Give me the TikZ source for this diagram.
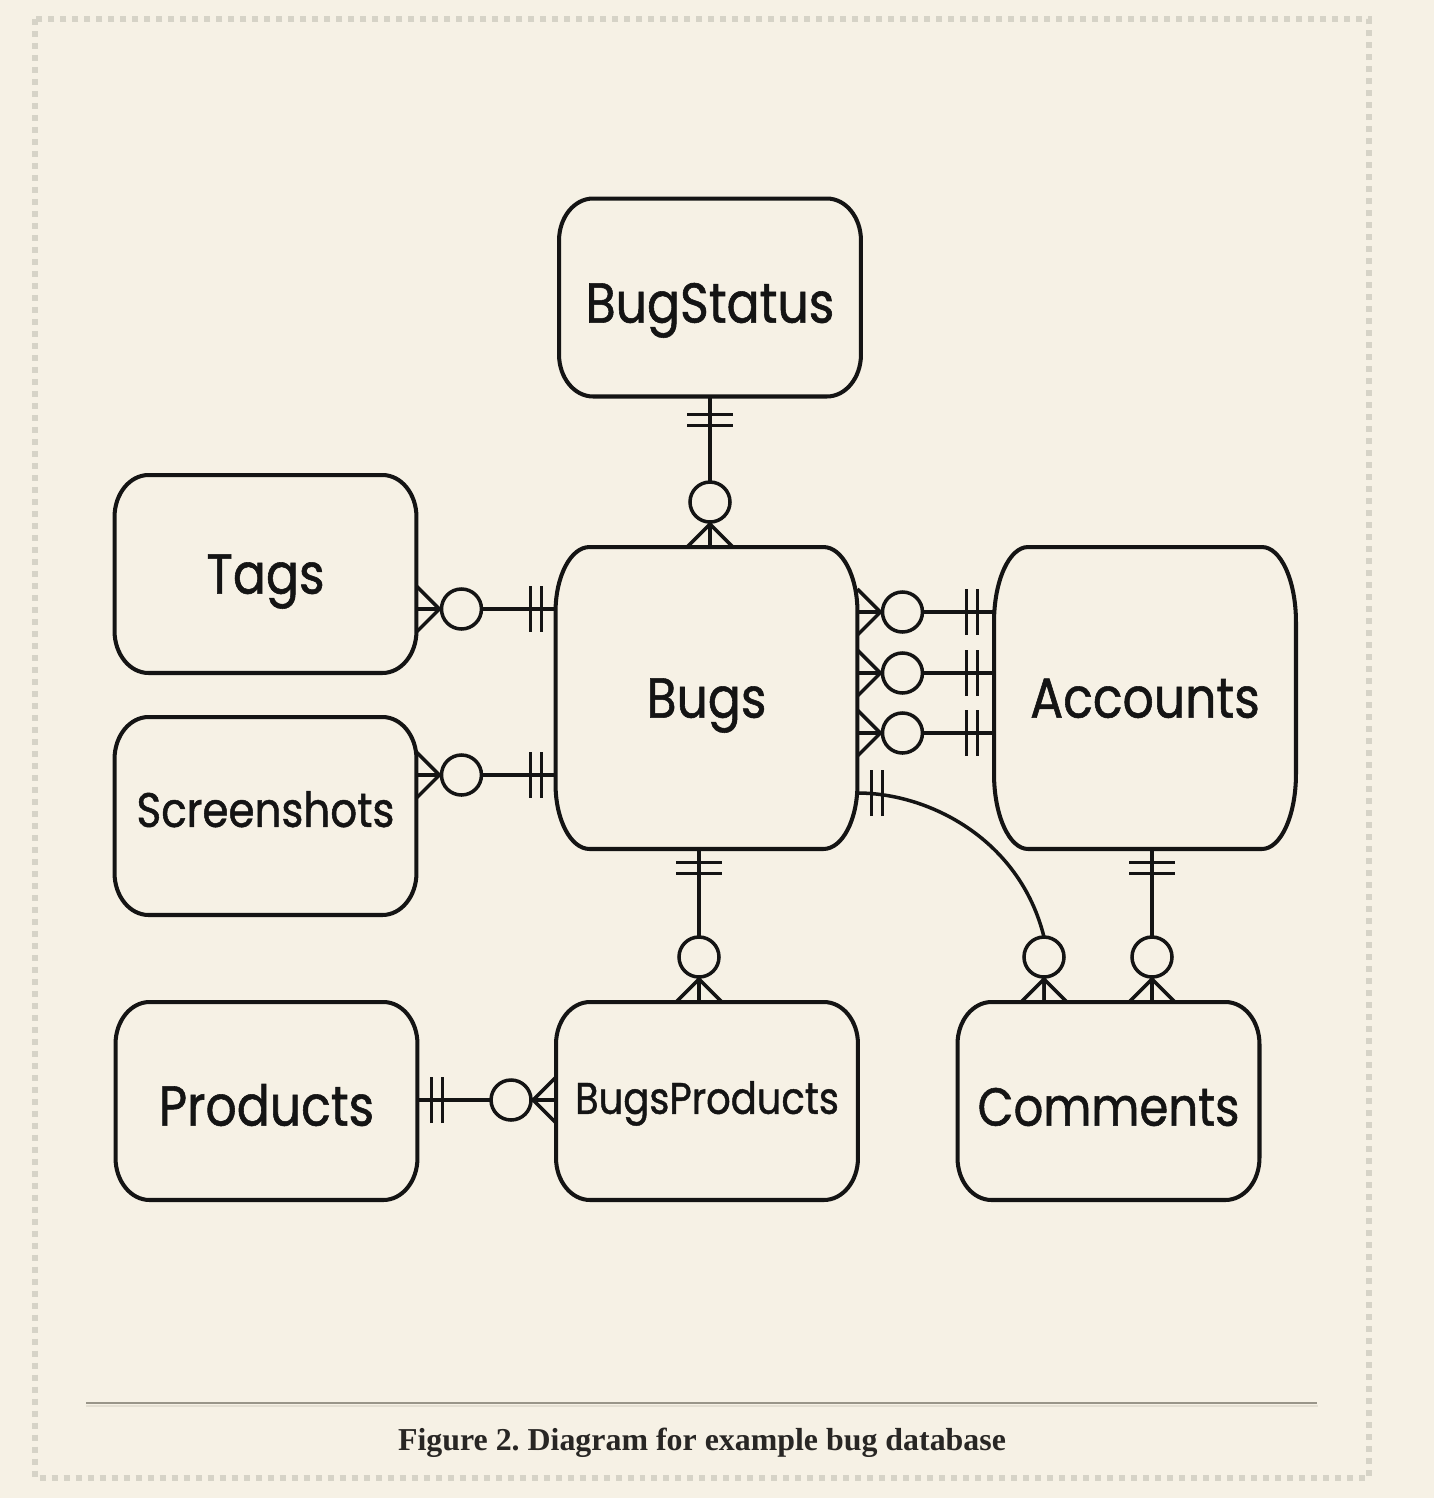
\documentclass[tikz,border=0pt]{standalone}
\usepackage{fontspec}
\setmainfont{Liberation Serif}
\newfontfamily\erfont[FakeStretch=0.87, FakeBold=1]{Poppins}
\usetikzlibrary{calc}

\definecolor{paper}{RGB}{246,241,229}
\definecolor{dotgray}{RGB}{214,211,199}
\definecolor{rulegray}{RGB}{153,149,137}
\definecolor{ruleshade}{RGB}{228,223,210}
\definecolor{ink}{RGB}{20,20,20}
\definecolor{capink}{RGB}{40,38,36}

\tikzset{
	entity/.style={minimum width=6.04cm, minimum height=3.96cm, inner sep=0pt, outer sep=0pt, text=ink, font=\erfont\fontsize{32}{36}\selectfont, text height=22.3pt, text depth=0pt},
	tall/.style={minimum height=6.04cm},
	smalltext/.style={font=\erfont\fontsize{27.5}{32}\selectfont, text height=19.2pt},
	outline/.style={ink, line width=2.3pt},
	link/.style={ink, line width=2pt},
	zeromany/.pic={
		\draw[link] (0,23) -- (23,0) -- (0,-23) (0,0) -- (23,0);
		\draw[link, fill=paper] (45,0) circle[radius=20];
	},
	onlyone/.pic={
		\draw[link, line width=1.7pt] (14,-23) -- (14,23) (25,-23) -- (25,23);
	}
}

\begin{document}
\frenchspacing
\begin{tikzpicture}[x=0.02cm, y=0.02cm]
						\fill[paper] (0,0) rectangle (1434,-1498);
						\draw[dotgray, line width=0.12cm, dash pattern=on 0.12cm off 0.12cm] (35,-19) rectangle (1369,-1478);

						\node[entity, text height=28.6pt] (bugstatus) at (710,-297.5) {BugStatus};
						\node[entity] (tags) at (265.5,-574) {Tags};
						\node[entity, smalltext, text depth=6.8pt] (screenshots) at (265.5,-816) {Screenshots};
						\node[entity, tall] (bugs) at (706.5,-698) {Bugs};
						\node[entity, tall] (accounts) at (1145,-698) {Accounts};
						\node[entity, text height=28pt] (products) at (266.5,-1101) {Products};
						\node[entity, font=\erfont\fontsize{25.2}{30}\selectfont, text height=17.6pt, text depth=3pt] (bugsproducts) at (707,-1101) {BugsProducts};
						\node[entity, font=\erfont\fontsize{30.5}{34}\selectfont, text height=28.1pt] (comments) at (1108.5,-1101) {Comments};

						\foreach \n/\ry in {bugstatus/42, tags/42, screenshots/42, products/42, bugsproducts/42, comments/42, bugs/65, accounts/75}
							\draw[outline] ($(\n.north west)+(34,0)$) -- ($(\n.north east)+(-34,0)$)
								arc[start angle=90, end angle=0, x radius=34, y radius=\ry] -- ($(\n.south east)+(0,\ry)$)
								arc[start angle=0, end angle=-90, x radius=34, y radius=\ry] -- ($(\n.south west)+(34,0)$)
								arc[start angle=270, end angle=180, x radius=34, y radius=\ry] -- ($(\n.north west)+(0,-\ry)$)
								arc[start angle=180, end angle=90, x radius=34, y radius=\ry] -- cycle;

						\draw[link] (bugstatus.south) -- (bugstatus.south |- bugs.north);
						\pic[rotate=-90] at ($(bugstatus.south)+(0,-4)$) {onlyone};
						\pic[rotate=90] at (bugstatus.south |- bugs.north) {zeromany};

						\foreach \y in {-609,-775} {
							\draw[link] (tags.east |- 0,\y) -- (bugs.west |- 0,\y);
							\pic at (tags.east |- 0,\y) {zeromany};
							\pic[rotate=180] at (bugs.west |- 0,\y) {onlyone};
						}

						\foreach \y in {-612,-673,-733} {
							\draw[link] (bugs.east |- 0,\y) -- (accounts.west |- 0,\y);
							\pic at (bugs.east |- 0,\y) {zeromany};
							\pic[rotate=180] at ($(accounts.west |- 0,\y)+(-3,0)$) {onlyone};
						}

						\draw[link] (bugs.east |- 0,-793) .. controls (930,-793) and (1020,-840) .. (1044,-937) -- (comments.north -| 1044,0);
						\pic at (bugs.east |- 0,-793) {onlyone};
						\pic[rotate=90] at (comments.north -| 1044,0) {zeromany};

						\draw[link] (accounts.south -| 1152,0) -- (comments.north -| 1152,0);
						\pic[rotate=-90] at (accounts.south -| 1152,0) {onlyone};
						\pic[rotate=90] at (comments.north -| 1152,0) {zeromany};

						\draw[link] (bugs.south -| 699,0) -- (bugsproducts.north -| 699,0);
						\pic[rotate=-90] at (bugs.south -| 699,0) {onlyone};
						\pic[rotate=90] at (bugsproducts.north -| 699,0) {zeromany};

						\draw[link] (products.east |- 0,-1100) -- (bugsproducts.west |- 0,-1100);
						\pic at (products.east |- 0,-1100) {onlyone};
						\pic[rotate=180] at (bugsproducts.west |- 0,-1100) {zeromany};

						\draw[ruleshade, line width=0.04cm] (86,-1405.5) -- (1318,-1405.5);
						\draw[rulegray, line width=0.04cm] (86,-1403) -- (1317,-1403);
						\node[anchor=base, text=capink, font=\bfseries\fontsize{18.15}{22}\selectfont] (caption) at (702,-1450) {Figure 2. Diagram for example bug database};
					\end{tikzpicture}
\end{document}
